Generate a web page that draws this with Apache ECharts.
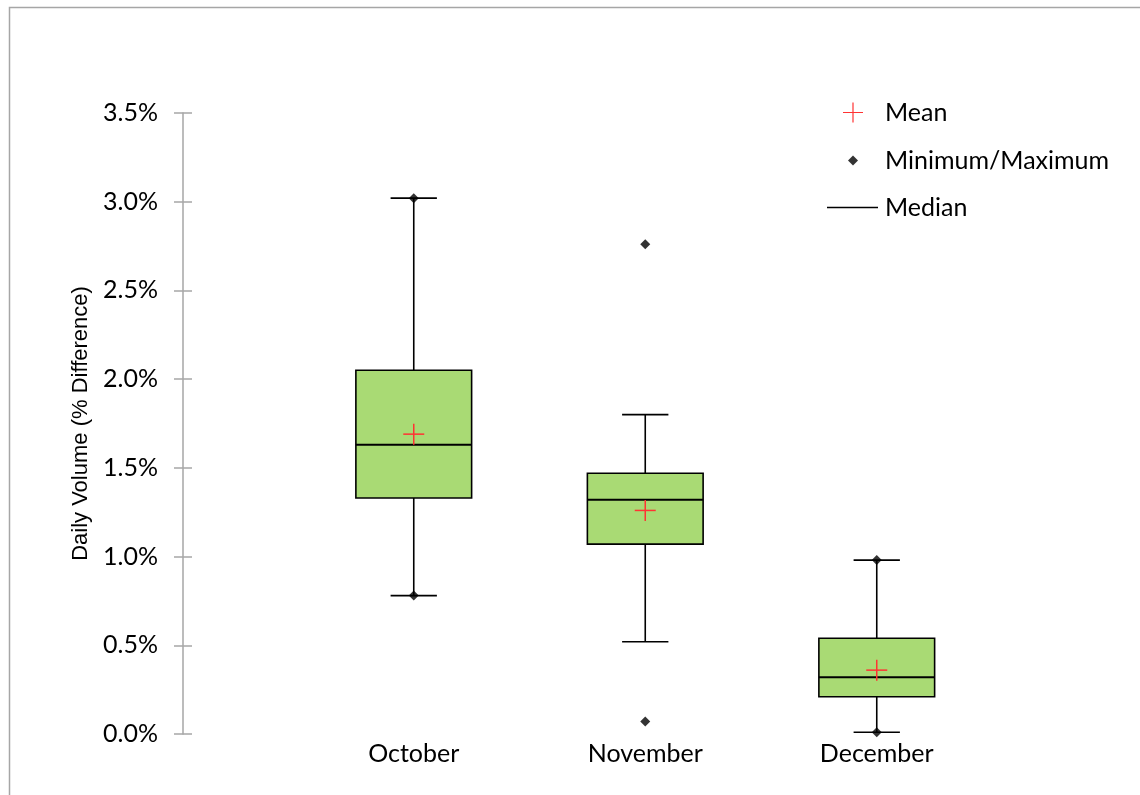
<!DOCTYPE html>
<html>
<head>
<meta charset="utf-8">
<script src="https://cdn.jsdelivr.net/npm/echarts@6/dist/echarts.min.js"></script>
<style>html,body{margin:0;padding:0;background:#fff}#c{width:1140px;height:795px}</style>
</head>
<body>
<div id="c"></div>
<script>
var categories = ['October', 'November', 'December'];
var minVals = [0.78, 0.07, 0.01];
var maxVals = [3.02, 2.76, 0.98];
var whiskerLow = [0.78, 0.52, 0.01];
var whiskerHigh = [3.02, 1.80, 0.98];
var q1Vals = [1.33, 1.07, 0.21];
var medianVals = [1.63, 1.32, 0.32];
var q3Vals = [2.05, 1.47, 0.54];
var meanVals = [1.69, 1.26, 0.36];
var yTicks = [0, 0.5, 1.0, 1.5, 2.0, 2.5, 3.0, 3.5];

var FONT = 'Lato';
var FS = 25;
var boxData = categories.map(function (c, i) { return [i, whiskerLow[i], q1Vals[i], q3Vals[i], whiskerHigh[i]]; });
var medData = categories.map(function (c, i) { return [i, medianVals[i]]; });
var meanData = categories.map(function (c, i) { return [i, meanVals[i]]; });
var extData = [];
categories.forEach(function (c, i) { extData.push([i, minVals[i]]); extData.push([i, maxVals[i]]); });

var chart = echarts.init(document.getElementById('c'), null, {renderer: 'canvas'});
var axisColor = '#A6A6A6';
var option = {
  animation: false,
  backgroundColor: '#fff',
  graphic: [{
    type: 'rect', left: 7, top: 5, shape: {x: 0, y: 0, width: 1300, height: 900},
    style: {fill: 'none', stroke: '#A6A6A6', lineWidth: 1.5}, silent: true, z: -10
  }],
  grid: {left: 298, right: 147.5, top: 113, bottom: 61},
  xAxis: {
    type: 'category', data: categories,
    axisLine: {show: false}, axisTick: {show: false},
    axisLabel: {color: '#000', fontFamily: FONT, fontSize: FS, margin: 7}
  },
  yAxis: [{
    type: 'value', min: 0, max: 3.5, interval: 0.5, offset: 115,
    name: 'Daily Volume (% Difference)', nameLocation: 'middle', nameGap: 89,
    nameTextStyle: {fontFamily: 'Liberation Sans', fontSize: 22, color: '#000'},
    axisLine: {show: true, lineStyle: {color: axisColor, width: 1.5}},
    axisTick: {show: true, inside: false, length: 9, lineStyle: {color: axisColor, width: 1.5}},
    splitLine: {show: false},
    axisLabel: {color: '#000', fontFamily: FONT, fontSize: FS, margin: 25,
      formatter: function (v) { return v.toFixed(1) + '%'; }}
  }, {
    type: 'value', min: 0, max: 3.5, interval: 0.5, offset: 115, position: 'left',
    axisLine: {show: false},
    axisTick: {show: true, inside: true, length: 9, lineStyle: {color: axisColor, width: 1.5}},
    splitLine: {show: false}, axisLabel: {show: false}
  }],
  legend: [{
    left: 843, top: 100, padding: 0, orient: 'vertical', itemWidth: 20, itemHeight: 20,
    textStyle: {fontFamily: FONT, fontSize: FS, color: '#000', padding: [0, 0, 0, 17]},
    data: [{name: 'Mean', icon: 'path://M0,9.4H20V10.6H0Z M9.4,0H10.6V20H9.4Z', itemStyle: {color: '#FF3333'}}]
  }, {
    left: 848, top: 148, padding: 0, orient: 'vertical', itemWidth: 10, itemHeight: 10,
    textStyle: {fontFamily: FONT, fontSize: FS, color: '#000', padding: [0, 0, 0, 22]},
    data: [{name: 'Minimum/Maximum', icon: 'diamond', itemStyle: {color: '#000'}}]
  }, {
    left: 827, top: 195, padding: 0, orient: 'vertical', itemWidth: 51, itemHeight: 1.5,
    textStyle: {fontFamily: FONT, fontSize: FS, color: '#000', padding: [0, 0, 0, 2]},
    data: [{name: 'Median', icon: 'rect', itemStyle: {color: '#000'}}]
  }],
  series: [{
    name: 'Box', type: 'custom', data: boxData, z: 2,
    renderItem: function (params, api) {
      var i = api.value(0);
      var band = api.size([1, 0])[0];
      var bw = band * 0.5, cw = band * 0.2;
      var pLow = api.coord([i, api.value(1)]);
      var pQ1 = api.coord([i, api.value(2)]);
      var pQ3 = api.coord([i, api.value(3)]);
      var pHigh = api.coord([i, api.value(4)]);
      var x = pQ1[0];
      var ls = {stroke: '#000', lineWidth: 1.6};
      return {
        type: 'group', children: [
          {type: 'line', shape: {x1: x, y1: pQ3[1], x2: x, y2: pHigh[1]}, style: ls},
          {type: 'line', shape: {x1: x, y1: pQ1[1], x2: x, y2: pLow[1]}, style: ls},
          {type: 'line', shape: {x1: x - cw / 2, y1: pHigh[1], x2: x + cw / 2, y2: pHigh[1]}, style: ls},
          {type: 'line', shape: {x1: x - cw / 2, y1: pLow[1], x2: x + cw / 2, y2: pLow[1]}, style: ls},
          {type: 'rect', shape: {x: x - bw / 2, y: pQ3[1], width: bw, height: pQ1[1] - pQ3[1]},
            style: {fill: '#A9DA74', stroke: '#000', lineWidth: 1.6}}
        ]
      };
    }
  }, {
    name: 'Median', type: 'custom', data: medData, z: 3, itemStyle: {color: '#000'},
    renderItem: function (params, api) {
      var band = api.size([1, 0])[0];
      var bw = band * 0.5;
      var p = api.coord([api.value(0), api.value(1)]);
      return {type: 'line', shape: {x1: p[0] - bw / 2, y1: p[1], x2: p[0] + bw / 2, y2: p[1]},
        style: {stroke: '#000', lineWidth: 2}};
    }
  }, {
    name: 'Mean', type: 'custom', data: meanData, z: 4, itemStyle: {color: '#FF3333'},
    renderItem: function (params, api) {
      var p = api.coord([api.value(0), api.value(1)]);
      var h = 10.5;
      var st = {stroke: '#FF3333', lineWidth: 1.5};
      return {type: 'group', children: [
        {type: 'line', shape: {x1: p[0] - h, y1: p[1], x2: p[0] + h, y2: p[1]}, style: st},
        {type: 'line', shape: {x1: p[0], y1: p[1] - h, x2: p[0], y2: p[1] + h}, style: st}
      ]};
    }
  }, {
    name: 'Minimum/Maximum', type: 'scatter', data: extData, z: 5,
    symbol: 'diamond', symbolSize: 10, itemStyle: {color: '#000'}
  }]
};
chart.setOption(option);
</script>
</body>
</html>
